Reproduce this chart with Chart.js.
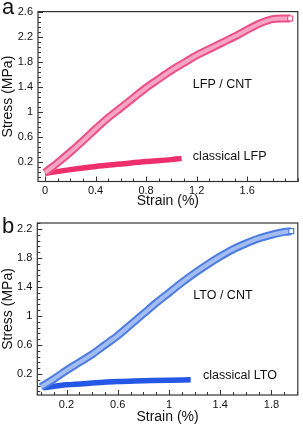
<!DOCTYPE html>
<html>
<head>
<meta charset="utf-8">
<script src="https://cdn.jsdelivr.net/npm/chart.js@4.4.0/dist/chart.umd.min.js"></script>
<style>
    body { margin: 0; background: #fff; width: 303px; height: 426px; position: relative; overflow: hidden; font-family: 'Liberation Sans', Arial, sans-serif; }
    .panel { position: absolute; left: 0; width: 303px; }
    .letra { position: absolute; left: 2px; font-size: 22px; line-height: 1; color: #111; }
</style>
</head>
<body>
<div class="panel" style="top:0;height:210px"><canvas id="graficoA" width="303" height="210"></canvas></div>
<div class="panel" style="top:210px;height:216px"><canvas id="graficoB" width="303" height="216"></canvas></div>
<span class="letra" style="top:-4px">a</span>
<span class="letra" style="top:215px">b</span>
<script>
// ===== PANEL A: LFP =====
var lfpCntStrain = [0, 0.05, 0.1, 0.2, 0.3, 0.4, 0.5, 0.6, 0.7, 0.8, 0.9, 1.0, 1.1, 1.2, 1.3, 1.4, 1.5, 1.6, 1.7, 1.75, 1.8, 1.87, 1.94];
var lfpCntStress = [0.02, 0.1, 0.18, 0.35, 0.53, 0.72, 0.9, 1.06, 1.22, 1.38, 1.52, 1.66, 1.78, 1.9, 2.0, 2.1, 2.2, 2.31, 2.41, 2.45, 2.48, 2.49, 2.49];
var lfpClasStrain = [0, 0.2, 0.4, 0.6, 0.8, 1.0, 1.08];
var lfpClasStress = [0.01, 0.07, 0.12, 0.16, 0.2, 0.23, 0.25];
var ticksXA = [0, 0.4, 0.8, 1.2, 1.6];
var ticksYA = [0.2, 0.6, 1, 1.4, 1.8, 2.2, 2.6];

// ===== PANEL B: LTO =====
var ltoCntStrain = [0, 0.1, 0.2, 0.3, 0.4, 0.5, 0.6, 0.7, 0.8, 0.9, 1.0, 1.1, 1.2, 1.3, 1.4, 1.5, 1.6, 1.7, 1.8, 1.9, 1.955];
var ltoCntStress = [0.02, 0.13, 0.25, 0.36, 0.47, 0.6, 0.73, 0.88, 1.03, 1.18, 1.32, 1.46, 1.59, 1.71, 1.82, 1.92, 2.0, 2.07, 2.12, 2.16, 2.17];
var ltoClasStrain = [0.02, 0.2, 0.4, 0.6, 0.8, 1.0, 1.17];
var ltoClasStress = [0.01, 0.05, 0.075, 0.095, 0.105, 0.115, 0.12];
var ticksXB = [0.2, 0.6, 1, 1.4, 1.8];
var ticksYB = [0.2, 0.6, 1, 1.4, 1.8, 2.2];

var FUENTE = "'Liberation Sans', Arial, sans-serif";

function puntos(xs, ys) {
    return xs.map(function (x, i) { return { x: x, y: ys[i] }; });
}

function etiqueta(v) {
    return String(+Number(v).toFixed(1));
}

// marco + ticks hacia adentro + textos
var marcoPlugin = {
    id: 'marco',
    afterDatasetsDraw: function (chart, args, opts) {
        var ctx = chart.ctx;
        var a = chart.chartArea;
        var sx = chart.scales.x, sy = chart.scales.y;
        ctx.save();
        ctx.strokeStyle = '#333';
        ctx.lineWidth = 1.2;
        ctx.strokeRect(a.left, a.top, a.right - a.left, a.bottom - a.top);
        ctx.lineWidth = 1;
        ctx.beginPath();
        for (var v = opts.xMin; v <= sx.max + 1e-9; v += 0.1) {
            var px = Math.round(sx.getPixelForValue(v)) + 0.5;
            var mayor = opts.xTicks.some(function (t) { return Math.abs(t - v) < 1e-6; });
            ctx.moveTo(px, a.bottom);
            ctx.lineTo(px, a.bottom - (mayor ? 5 : 3));
        }
        for (var w = opts.yMin; w <= sy.max + 1e-9; w += 0.08) {
            var py = Math.round(sy.getPixelForValue(w)) + 0.5;
            var mayorY = opts.yTicks.some(function (t) { return Math.abs(t - w) < 1e-6; });
            ctx.moveTo(a.left, py);
            ctx.lineTo(a.left + (mayorY ? 5 : 3), py);
        }
        ctx.stroke();
        ctx.fillStyle = '#111';
        ctx.font = '12.5px ' + FUENTE;
        ctx.textBaseline = 'middle';
        ctx.textAlign = 'left';
        opts.textos.forEach(function (t) {
            ctx.fillText(t.texto, sx.getPixelForValue(t.x), sy.getPixelForValue(t.y));
        });
        ctx.restore();
    }
};

function crearGrafico(id, cfg) {
    var ctx = document.getElementById(id).getContext('2d');
    var n = cfg.cntX.length;
    var radios = cfg.cntX.map(function (x, i) { return i === n - 1 ? 3.5 : 0; });
    return new Chart(ctx, {
        type: 'line',
        data: {
            datasets: [{
                data: puntos(cfg.cntX, cfg.cntY),
                borderColor: cfg.claro,
                borderWidth: 4,
                pointRadius: radios,
                pointStyle: 'rect',
                pointBackgroundColor: '#fff',
                pointBorderColor: cfg.borde,
                pointBorderWidth: 1.2,
                cubicInterpolationMode: 'monotone',
                order: 0
            }, {
                data: puntos(cfg.cntX, cfg.cntY),
                borderColor: cfg.borde,
                borderWidth: 8,
                pointRadius: 0,
                cubicInterpolationMode: 'monotone',
                order: 1
            }, {
                data: puntos(cfg.clasX, cfg.clasY),
                borderColor: cfg.solido,
                borderWidth: 5.5,
                pointRadius: 0,
                cubicInterpolationMode: 'monotone',
                order: 2
            }]
        },
        options: {
            responsive: false,
            animation: false,
            layout: { padding: cfg.padding },
            plugins: {
                legend: { display: false },
                tooltip: { enabled: false },
                marco: { xTicks: cfg.xTicks, yTicks: cfg.yTicks, xMin: cfg.xMinorStart, yMin: cfg.yMinorStart, textos: cfg.textos }
            },
            scales: {
                x: {
                    type: 'linear',
                    min: cfg.xRange[0],
                    max: cfg.xRange[1],
                    grid: { display: false, drawTicks: false },
                    border: { display: false },
                    afterBuildTicks: function (s) { s.ticks = cfg.xTicks.map(function (v) { return { value: v }; }); },
                    afterFit: function (s) { s.height = cfg.altoX; },
                    ticks: {
                        autoSkip: false, maxRotation: 0, padding: cfg.padTickX, color: '#111',
                        font: { family: FUENTE, size: 11 },
                        callback: etiqueta
                    },
                    title: {
                        display: true, text: 'Strain (%)', color: '#111', padding: { top: 0, bottom: cfg.padTitulo },
                        font: { family: FUENTE, size: 14 }
                    }
                },
                y: {
                    type: 'linear',
                    min: cfg.yRange[0],
                    max: cfg.yRange[1],
                    grid: { display: false, drawTicks: false },
                    border: { display: false },
                    afterBuildTicks: function (s) { s.ticks = cfg.yTicks.map(function (v) { return { value: v }; }); },
                    afterFit: function (s) { s.width = cfg.anchoY; },
                    ticks: {
                        autoSkip: false, padding: 5, color: '#111',
                        font: { family: FUENTE, size: 11 },
                        callback: etiqueta
                    },
                    title: {
                        display: true, text: 'Stress (MPa)', color: '#111', padding: 0,
                        font: { family: FUENTE, size: 14 }
                    }
                }
            }
        },
        plugins: [marcoPlugin]
    });
}

// GRAFICO A - LFP
crearGrafico('graficoA', {
    cntX: lfpCntStrain, cntY: lfpCntStress, clasX: lfpClasStrain, clasY: lfpClasStress,
    xTicks: ticksXA, yTicks: ticksYA,
    xRange: [-0.055, 2.0], yRange: [-0.12, 2.6],
    xMinorStart: 0, yMinorStart: -0.04,
    padding: { top: 7, right: 3, left: 0, bottom: 0 },
    anchoY: 38, altoX: 28.5, padTickX: 2.5, padTitulo: 0,
    claro: '#f7a6c2', borde: '#ec4f86', solido: '#ef2f6c',
    textos: [{ texto: 'LFP / CNT', x: 1.17, y: 1.44 }, { texto: 'classical LFP', x: 1.17, y: 0.28 }]
});

// GRAFICO B - LTO
crearGrafico('graficoB', {
    cntX: ltoCntStrain, cntY: ltoCntStress, clasX: ltoClasStrain, clasY: ltoClasStress,
    xTicks: ticksXB, yTicks: ticksYB,
    xRange: [-0.028, 2.006], yRange: [-0.09, 2.283],
    xMinorStart: 0, yMinorStart: -0.04,
    padding: { top: 13, right: 4, left: 0, bottom: 0 },
    anchoY: 37.3, altoX: 31, padTickX: 3, padTitulo: 0,
    claro: '#a3bdf3', borde: '#4c7be2', solido: '#2457e6',
    textos: [{ texto: 'LTO / CNT', x: 1.19, y: 1.28 }, { texto: 'classical LTO', x: 1.266, y: 0.176 }]
});
</script>
</body>
</html>
